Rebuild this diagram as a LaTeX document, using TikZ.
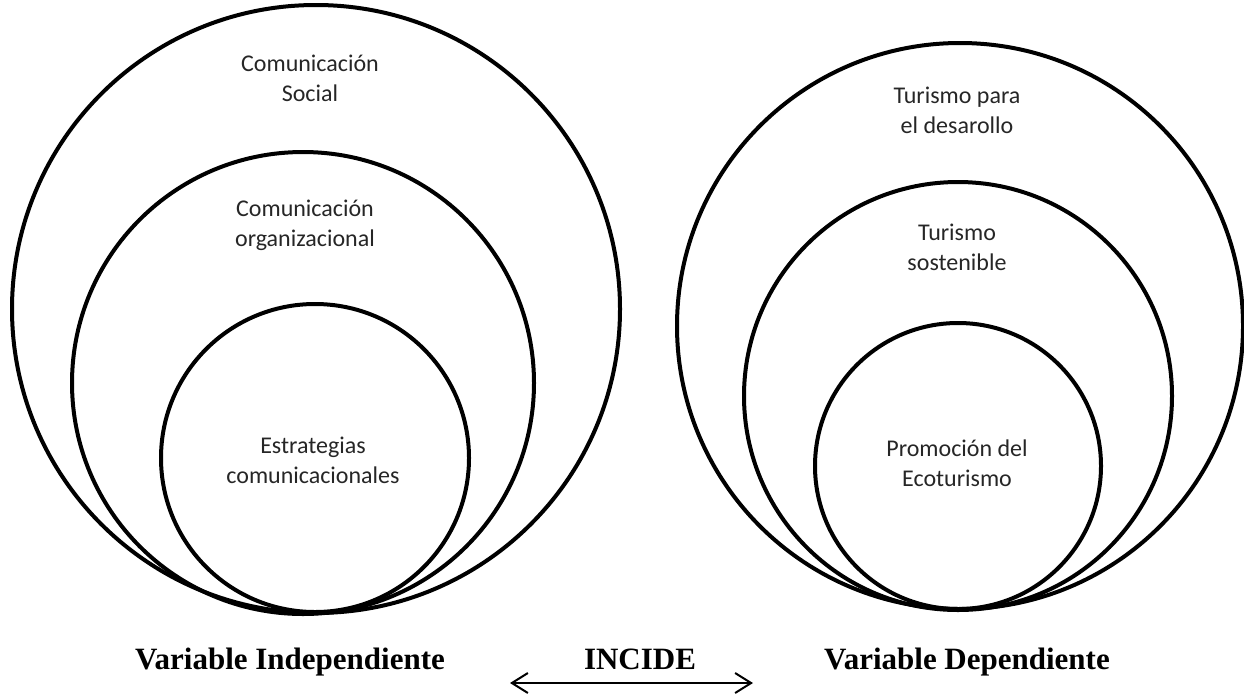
\documentclass[tikz,border=0pt]{standalone}
\usepackage{fontspec}
\setmainfont{Liberation Serif}
\newfontfamily\calib{Carlito}
\usetikzlibrary{arrows.meta}

\tikzset{
  ring/.style={draw, circle, line width=4pt, inner sep=0pt},
  tag/.style={font=\calib\fontsize{24}{30}\selectfont, text=black!85, align=center},
  varlabel/.style={font=\bfseries\fontsize{31}{36}\selectfont, anchor=base}
}

\begin{document}
\begin{tikzpicture}[x=1pt,y=-1pt]
                  \useasboundingbox (0,0) rectangle (1244,697);
                  % variable independiente
                  \node[ring, minimum size=608] (CS) at (316,309) {};
                  \node[ring, minimum size=462] (CO) at (303,383) {};
                  \node[ring, minimum size=308] (EC) at (315,458) {};
                  \node[tag] (tCS) at (310,78) {Comunicación\\Social};
                  \node[tag] (tCO) at (305,225) {Comunicación\\organizacional};
                  \node[tag] (tEC) at (313,460) {Estrategias\\comunicacionales};
                  % variable dependiente
                  \node[ring, minimum size=566] (TD) at (960,326) {};
                  \node[ring, minimum size=428] (TS) at (958,396) {};
                  \node[ring, minimum size=286] (PE) at (958,466) {};
                  \node[tag] (tTD) at (957,110) {Turismo para\\el desarollo};
                  \node[tag] (tTS) at (957,247) {Turismo\\sostenible};
                  \node[tag] (tPE) at (957,463) {Promoción del\\Ecoturismo};
                  % etiquetas
                  \node[varlabel] (VI) at (290,669) {Variable Independiente};
                  \node[varlabel] (IN) at (640,669) {INCIDE};
                  \node[varlabel] (VD) at (967,669) {Variable Dependiente};
                  \coordinate (A1) at (510,683);
                  \coordinate (A2) at (753,683);
                  \draw[{Straight Barb[length=16pt,width=20pt]}-{Straight Barb[length=16pt,width=20pt]}, line width=2pt] (A1) -- (A2);
              \end{tikzpicture}
\end{document}
